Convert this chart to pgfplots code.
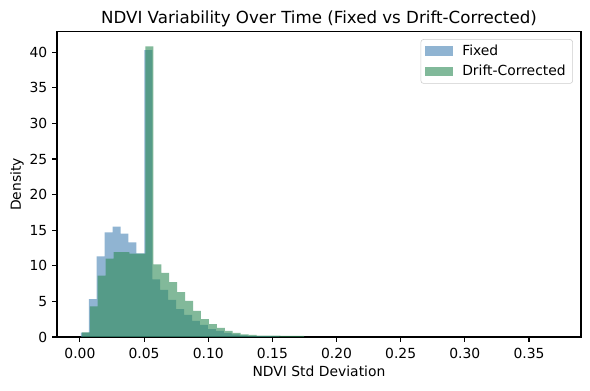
\documentclass[border=0pt]{standalone}
\usepackage{fontspec}
\setmainfont{DejaVu Sans}
\usepackage{pgfplots}
\pgfplotsset{compat=1.18}
\definecolor{fixedc}{RGB}{70,130,180}
\definecolor{driftc}{RGB}{46,139,87}
\begin{document}
\begin{tikzpicture}
\path[use as bounding box] (0,0) rectangle (424.8pt,280.8pt);
\begin{axis}[
  at={(41pt,38.2pt)}, anchor=south west,
  scale only axis, width=377.3pt, height=219.6pt,
  xmin=-0.0179, xmax=0.3905, ymin=0, ymax=42.84,
  xtick={0,0.05,0.1,0.15,0.2,0.25,0.3,0.35},
  ytick={0,5,10,15,20,25,30,35,40},
  xticklabel style={/pgf/number format/fixed, /pgf/number format/fixed zerofill, /pgf/number format/precision=2, yshift=-1pt},
  /pgf/number format/assume math mode=true,
  tick pos=left, tick align=outside, major tick length=3.5pt,
  every tick/.style={black, line width=0.8pt},
  axis line style={line width=0.8pt},
  tick label style={font=\fontsize{10}{12}\selectfont},
  label style={font=\fontsize{10}{12}\selectfont},
  xlabel={NDVI Std Deviation},
  ylabel={Density},
  xlabel style={at={(axis description cs:0.5,-0.1115)}, anchor=center},
  ylabel style={at={(axis description cs:-0.0763,0.5)}, anchor=center},
  title={NDVI Variability Over Time (Fixed vs Drift-Corrected)},
  every axis title shift=0pt,
  title style={font=\fontsize{12}{14}\selectfont, at={(axis description cs:0.5,1)}, anchor=base, yshift=5.8pt, inner sep=0pt},
  legend style={at={(axis description cs:1,1)}, anchor=north east, xshift=-5.8pt, yshift=-5.2pt,
    draw=black!20, rounded corners=2pt, font=\fontsize{10}{12}\selectfont,
    inner xsep=3pt, inner ysep=2pt, row sep=1.5pt},
  legend cell align=left,
]
\addplot[ybar interval, fill=fixedc, fill opacity=0.6, draw=none, forget plot] coordinates {
(0.0007,0.6) (0.00689,5.3) (0.01308,11.3) (0.01927,14.7) (0.02546,15.5)
(0.03165,14.5) (0.03784,13.3) (0.04403,11.75) (0.05022,40.3) (0.05641,8.1)
(0.06260,6.6) (0.06879,5.2) (0.07498,3.9) (0.08117,3.1) (0.08736,2.25)
(0.09355,1.7) (0.09974,1.1) (0.10593,0.84) (0.11212,0.56) (0.11831,0.35)
(0.12450,0.23) (0.13069,0.12) (0.13688,0.1) (0.14307,0.1) (0.14926,0.08)
(0.15545,0)
};
\addplot[ybar interval, fill=driftc, fill opacity=0.6, draw=none, forget plot] coordinates {
(0.0015,0.65) (0.00769,4.3) (0.01388,8.6) (0.02007,11.0) (0.02626,11.9)
(0.03245,11.9) (0.03864,11.7) (0.04483,11.7) (0.05102,40.8) (0.05721,10.2)
(0.06340,9.0) (0.06959,7.7) (0.07578,6.3) (0.08197,5.05) (0.08816,3.65)
(0.09435,2.5) (0.10054,1.8) (0.10673,1.26) (0.11292,0.84) (0.11911,0.56)
(0.12530,0.37) (0.13149,0.28) (0.13768,0.19) (0.14387,0.19) (0.15006,0.19)
(0.15625,0.14) (0.16244,0.14) (0.16863,0.14) (0.17482,0)
};
\addlegendimage{draw=none, legend image code/.code={\fill[fixedc, fill opacity=0.6, sharp corners, draw=none] (0pt,-3.5pt) rectangle (20pt,3.5pt); \path[draw=none, fill=none] (0pt,0pt) rectangle (24.8pt,0.1pt);}}
\addlegendentry{Fixed}
\addlegendimage{draw=none, legend image code/.code={\fill[driftc, fill opacity=0.6, sharp corners, draw=none] (0pt,-3.5pt) rectangle (20pt,3.5pt); \path[draw=none, fill=none] (0pt,0pt) rectangle (24.8pt,0.1pt);}}
\addlegendentry{Drift-Corrected}
\end{axis}
\end{tikzpicture}
\end{document}
